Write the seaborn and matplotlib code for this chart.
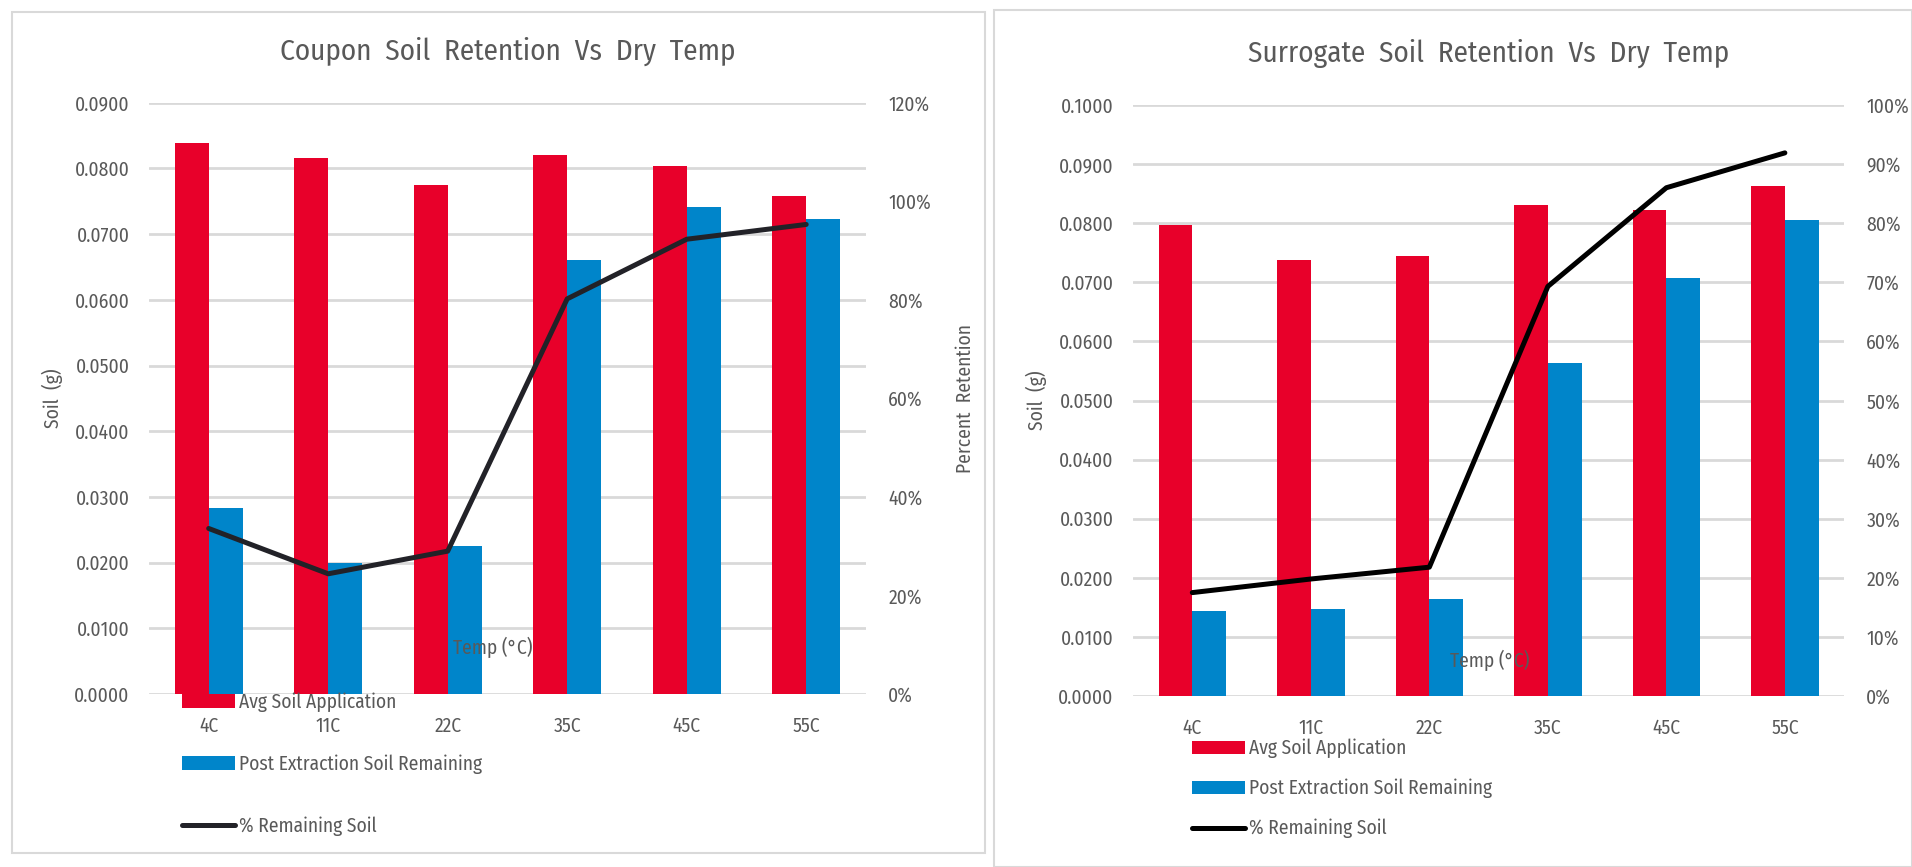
import numpy as np
import pandas as pd
import matplotlib
matplotlib.use("Agg")
import matplotlib.pyplot as plt
import seaborn as sns
from matplotlib.patches import Rectangle
from matplotlib.ticker import PercentFormatter, FormatStrFormatter

# DATA
temps = ["4C", "11C", "22C", "35C", "45C", "55C"]
series = ["Avg Soil Application", "Post Extraction Soil Remaining"]

coupon_avg = [0.0838, 0.0816, 0.0775, 0.0821, 0.0804, 0.0758]
coupon_post = [0.0283, 0.0200, 0.0225, 0.0660, 0.0742, 0.0723]
coupon_pct = [33.6, 24.4, 29.0, 80.2, 92.3, 95.3]

surr_avg = [0.0797, 0.0737, 0.0744, 0.0830, 0.0822, 0.0863]
surr_post = [0.0144, 0.0147, 0.0164, 0.0564, 0.0707, 0.0805]
surr_pct = [17.5, 19.8, 21.8, 69.3, 86.0, 91.9]

RED = "#E8002A"
BLUE = "#0085CA"
GREY = "#595959"
GRID = "#D9D9D9"

sns.set_theme(style="white")
plt.rcParams['font.family'] = ['Fira Sans Condensed', 'Liberation Sans', 'DejaVu Sans']
plt.rcParams['text.color'] = GREY
plt.rcParams['axes.labelcolor'] = GREY


def long_frame(avg, post):
    return pd.DataFrame({
        'temp': temps * 2,
        'soil': avg + post,
        'series': [series[0]] * len(temps) + [series[1]] * len(temps),
    })


def draw_panel(fig, rect, avg, post, pct, title, ymax, pmax, pstep,
               line_color, right_label, xlabel_pos, xtick_pad):
    ax = fig.add_axes(rect)
    sns.barplot(data=long_frame(avg, post), x='temp', y='soil', hue='series',
                palette=[RED, BLUE], width=0.57, saturation=1, ax=ax,
                legend=False, edgecolor='none')
    ax.set_ylim(0, ymax)
    ax.set_xlim(-0.5, len(temps) - 0.5)
    ax.set_yticks(np.arange(0, ymax + 1e-9, 0.01))
    ax.yaxis.set_major_formatter(FormatStrFormatter('%.4f'))
    ax.yaxis.grid(True, color=GRID, linewidth=2)
    ax.set_axisbelow(True)
    for s in ax.spines.values():
        s.set_visible(False)
    ax.tick_params(axis='both', length=0, labelsize=14, colors=GREY)
    ax.tick_params(axis='x', pad=xtick_pad)
    ax.tick_params(axis='y', pad=14)
    ax.set_ylabel("Soil  (g)", fontsize=14, labelpad=8)
    ax.set_xlabel("")
    ax.text(xlabel_pos[0], xlabel_pos[1], "Temp (°C)", transform=ax.transAxes,
            ha='center', va='center', fontsize=14, color=GREY, zorder=5)
    ax.set_title(title, fontsize=21, color=GREY, pad=31)

    ax2 = ax.twinx()
    sns.lineplot(x=temps, y=pct, ax=ax2, color=line_color, linewidth=3.6,
                 sort=False, label="% Remaining Soil", legend=False,
                 solid_capstyle='round')
    ax2.set_ylim(0, pmax)
    ax2.set_yticks(np.arange(0, pmax + 1e-9, pstep))
    ax2.yaxis.set_major_formatter(PercentFormatter(decimals=0))
    for s in ax2.spines.values():
        s.set_visible(False)
    ax2.tick_params(axis='y', length=0, labelsize=14, colors=GREY, pad=16)
    ax2.set_ylabel(right_label, fontsize=14, labelpad=18)
    ax2.grid(False)
    return ax, ax2


fig = plt.figure(figsize=(19.12, 8.67), dpi=100)

# panel frames
fig.patches.append(Rectangle((12 / 1912, 1 - 853 / 867), 973 / 1912, 841 / 867,
                             transform=fig.transFigure, fill=False,
                             edgecolor=GRID, linewidth=1.5))
fig.patches.append(Rectangle((994 / 1912, 0), 918 / 1912, 1 - 10 / 867,
                             transform=fig.transFigure, fill=False,
                             edgecolor=GRID, linewidth=1.5))

axL, axL2 = draw_panel(fig, [0.0779, 0.1995, 0.3750, 0.6820],
                       coupon_avg, coupon_post, coupon_pct,
                       "Coupon  Soil  Retention  Vs  Dry  Temp",
                       0.09, 120, 20, "#222228", "Percent  Retention",
                       (0.48, 0.079), 16)
axR, axR2 = draw_panel(fig, [0.5926, 0.1972, 0.3719, 0.6817],
                       surr_avg, surr_post, surr_pct,
                       "Surrogate  Soil  Retention  Vs  Dry  Temp",
                       0.10, 100, 10, "#000000", "",
                       (0.502, 0.061), 16)

for ax, ax2, anchor, spacing in [(axL, axL2, (182 / 1912, 0.2018), 2.2),
                                 (axR, axR2, (1192 / 1912, 0.148), 1.06)]:
    bars = [ax.containers[0].patches[0], ax.containers[1].patches[0]]
    line = ax2.get_lines()[0]
    fig.legend(bars + [line], series + ["% Remaining Soil"],
               loc='upper left', bbox_to_anchor=anchor, frameon=False,
               fontsize=14, labelspacing=spacing, handlelength=2.7,
               handletextpad=0.25, borderpad=0, borderaxespad=0,
               labelcolor=GREY)

fig.savefig("out.png", dpi=100)
